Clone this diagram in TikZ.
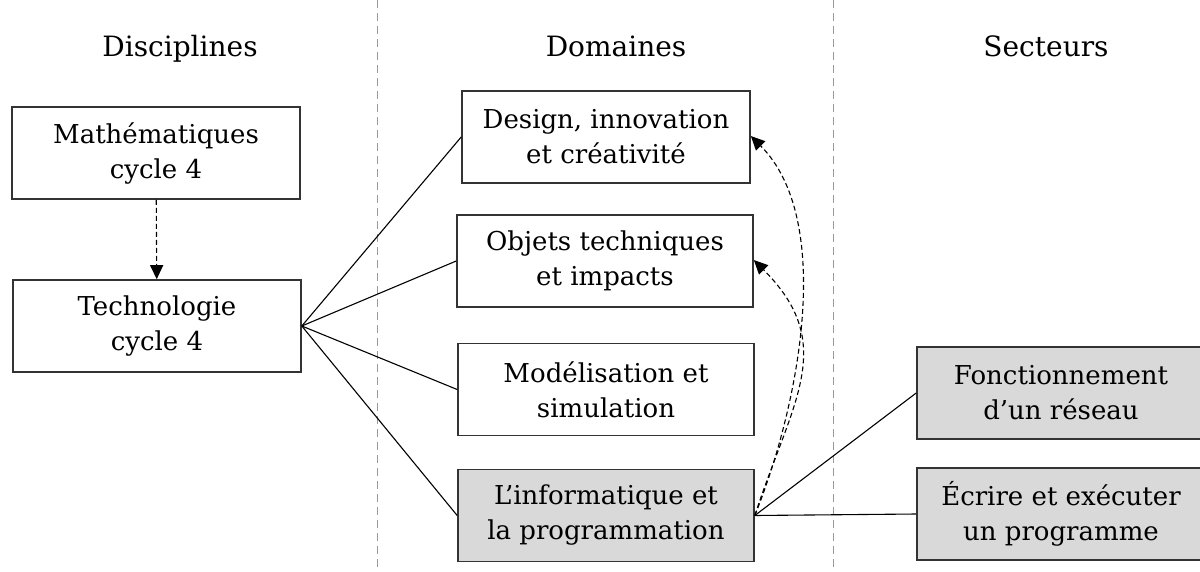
\documentclass[tikz,border=0pt]{standalone}
\usepackage{fontspec}
\setmainfont{DejaVu Serif}
\usetikzlibrary{arrows.meta}
\tikzset{
  box/.style={draw=black!80, line width=1.6pt, minimum height=92pt, align=center, inner sep=0pt, font=\fontsize{26}{35}\selectfont},
  hl/.style={box, fill=black!15},
  title/.style={font=\fontsize{28}{32}\selectfont, anchor=base},
  sep/.style={draw=black!40, line width=1pt, dash pattern=on 8pt off 5pt},
  link/.style={draw=black, line width=1.1pt},
  dep/.style={draw=black, line width=1.1pt, dash pattern=on 5pt off 3pt, -{Triangle[length=14pt,width=13pt]}}
}
\begin{document}
\begin{tikzpicture}[x=1pt,y=-1pt]
\useasboundingbox (0,0) rectangle (1200,571);
\coordinate (s1a) at (377,0); \coordinate (s1b) at (377,571);
\coordinate (s2a) at (833,0); \coordinate (s2b) at (833,571);
\draw[sep] (s1a) -- (s1b);
\draw[sep] (s2a) -- (s2b);
\node[title] (t1) at (180,56) {Disciplines};
\node[title] (t2) at (616,56) {Domaines};
\node[title] (t3) at (1046,56) {Secteurs};
\node[box, minimum width=288pt] (math) at (156,153) {Mathématiques\\cycle 4};
\node[box, minimum width=288pt] (tech) at (157,326) {Technologie\\cycle 4};
\node[box, minimum width=288pt] (design) at (606,137) {Design, innovation\\et créativité};
\node[box, minimum width=296pt] (objets) at (605,261) {Objets techniques\\et impacts};
\node[box, minimum width=296pt] (model) at (606,389.5) {Modélisation et\\simulation};
\node[hl, minimum width=296pt] (info) at (606,515.5) {L’informatique et\\la programmation};
\node[hl, minimum width=288pt] (reseau) at (1061,393) {Fonctionnement\\d’un réseau};
\node[hl, minimum width=288pt] (prog) at (1061,514) {Écrire et exécuter\\un programme};
\draw[dep] (math) -- (tech);
\draw[link] (tech.east) -- (design.west);
\draw[link] (tech.east) -- (objets.west);
\draw[link] (tech.east) -- (model.west);
\draw[link] (tech.east) -- (info.west);
\draw[link] (info.east) -- (reseau.west);
\draw[link] (info.east) -- (prog.west);
\draw[dep] (info.east) to[out=68,in=-45,looseness=0.8] ([yshift=1pt]design.east);
\draw[dep] (info.east) to[out=72,in=-45,looseness=1.2] ([yshift=1pt]objets.east);
\end{tikzpicture}
\end{document}
